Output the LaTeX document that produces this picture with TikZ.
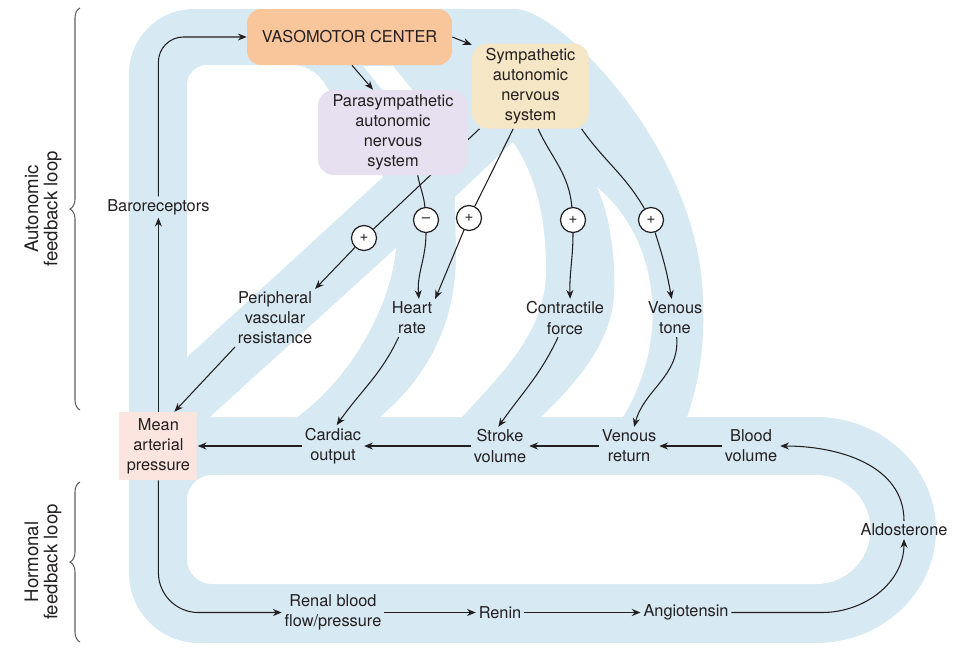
\documentclass[tikz,border=0pt]{standalone}
\usepackage{fontspec}
\setmainfont{TeX Gyre Heros}
\usepackage{tikz}
\usetikzlibrary{arrows.meta, backgrounds, decorations.pathreplacing}

\definecolor{bandblue}{RGB}{215,233,243}
\definecolor{vasoorange}{RGB}{249,198,156}
\definecolor{sympbeige}{RGB}{245,230,197}
\definecolor{paralilac}{RGB}{231,224,240}
\definecolor{mappink}{RGB}{252,229,222}
\definecolor{inkblack}{RGB}{35,31,32}
\definecolor{bracegray}{RGB}{95,95,95}

\newcommand{\diagfont}{\fontsize{9.3}{11.4}\selectfont}
\newcommand{\bracefont}{\fontsize{10.6}{10.9}\selectfont}
\newcommand{\signfont}{\fontsize{8.6}{10}\selectfont}

\tikzset{
  vasobox/.style={
    rectangle, rounded corners=8pt, minimum width=4.1cm, minimum height=1.12cm,
    fill=vasoorange, align=center
  },
  nervebox/.style={
    rectangle, rounded corners=9pt, minimum height=1.7cm, align=center,
    inner sep=2pt
  },
  mapbox/.style={
    rectangle, fill=mappink, minimum width=1.56cm, minimum height=1.36cm,
    align=center, inner sep=1pt
  },
  factor/.style={align=center, inner sep=1.5pt},
  sign/.style={
    circle, draw=inkblack, line width=0.7pt, fill=white, minimum size=0.5cm,
    inner sep=0pt, font=\signfont
  },
  arrow/.style={-{Stealth[length=5pt,width=4pt]}, line width=0.6pt, color=inkblack},
  link/.style={line width=0.6pt, color=inkblack},
  band/.style={fill=bandblue},
  holefill/.style={fill=white},
  loopbrace/.style={
    decorate, decoration={brace, amplitude=0.2cm}, draw=bracegray,
    line width=0.6pt
  }
}

\begin{document}
\begin{tikzpicture}[x=0.02cm, y=0.02cm,
                    every node/.style={font=\diagfont, text=inkblack}]
  \useasboundingbox (0,0) rectangle (962,-657);

  % boxes
  \node[vasobox] (vaso) at (349.5,-37) {VASOMOTOR CENTER};
  \node[nervebox, fill=sympbeige, minimum width=2.34cm] (symp) at (530.5,-86)
    {Sympathetic\\autonomic\\nervous\\system};
  \node[nervebox, fill=paralilac, minimum width=3cm] (para) at (393,-132.5)
    {Parasympathetic\\autonomic\\nervous\\system};
  \node[mapbox] (map) at (158.4,-446) {Mean\\arterial\\pressure};

  % factors
  \node[factor] (baro) at (158.4,-207) {Baroreceptors};
  \node[factor] (pvr) at (275,-318) {Peripheral\\vascular\\resistance};
  \node[factor] (heart) at (412,-318) {Heart\\rate};
  \node[factor] (contract) at (565,-318) {Contractile\\force};
  \node[factor] (vtone) at (675,-318) {Venous\\tone};
  \node[factor] (cardiac) at (333,-446) {Cardiac\\output};
  \node[factor] (stroke) at (500,-446) {Stroke\\volume};
  \node[factor] (vreturn) at (629,-446) {Venous\\return};
  \node[factor] (blood) at (751,-446) {Blood\\volume};
  \node[factor] (renal) at (333,-612.5) {Renal blood\\flow/pressure};
  \node[factor] (renin) at (500,-612.5) {Renin};
  \node[factor] (angio) at (686,-612.5) {Angiotensin};
  \node[factor] (aldo) at (904,-530) {Aldosterone};

  % signs
  \node[sign] (pvrplus) at (364,-238) {+};
  \node[sign] (hrminus) at (426,-220) {--};
  \node[sign] (hrplus) at (469,-218) {+};
  \node[sign] (cfplus) at (573,-220) {+};
  \node[sign] (vtplus) at (651,-220) {+};

  % light blue loops
  \begin{scope}[on background layer]
    \fill[band] (129,-300) [rounded corners=1.3cm] -- (129,-9) -- (450,-9)
      [sharp corners] .. controls (560,-9) and (700,-150) .. (703,-300)
      .. controls (705,-350) and (698,-385) .. (687,-417)
      -- (816,-417) arc[start angle=90, end angle=-90, x radius=120, y radius=113]
      [rounded corners=1.4cm] -- (129,-643) -- cycle;
    \fill[holefill] (187,-357) [rounded corners=0.4cm] -- (187,-65) -- (313,-65)
      [sharp corners] -- (383,-177) -- cycle;
    \fill[holefill] (363,-66) -- (393,-66) -- (445,-130) -- (415,-130) -- cycle;
    \fill[holefill] (210,-417) -- (396,-248)
      .. controls (392,-300) and (355,-375) .. (297,-417) -- cycle;
    \fill[holefill] (513,-142) -- (455,-197) -- (456,-250)
      .. controls (457,-320) and (430,-375) .. (380,-417) -- (462,-417)
      .. controls (505,-370) and (546,-330) .. (546,-270)
      .. controls (546,-215) and (535,-175) .. (513,-142) -- cycle;
    \fill[holefill] (597,-187) .. controls (610,-215) and (616,-260) .. (614,-295)
      .. controls (612,-340) and (580,-380) .. (541,-417) -- (623,-417)
      .. controls (645,-380) and (655,-340) .. (652,-300)
      .. controls (649,-255) and (630,-215) .. (597,-187) -- cycle;
    \fill[holefill] (187,-500) arc[start angle=180, end angle=90, radius=25]
      -- (816,-475) arc[start angle=90, end angle=-90, radius=54.5]
      -- (212,-584) arc[start angle=270, end angle=180, radius=25] -- cycle;
    \draw[link] (symp.-140) -- (pvrplus);
  \end{scope}

  % autonomic loop
  \draw[arrow] (map) -- (baro);
  \draw[arrow, rounded corners=0.5cm] (baro) |- (vaso);
  \draw[arrow] (vaso.east) -- (symp.145);
  \draw[arrow] (vaso.-85) -- (para.115);
  \draw[link] (para.-60) to[out=-80,in=95] (hrminus);
  \draw[arrow] (hrminus) to[out=-90,in=95] (heart.70);
  \draw[link] (symp.-112) -- (hrplus);
  \draw[arrow] (hrplus) -- (heart.north east);
  \draw[arrow] (pvrplus) -- (pvr.north east);
  \draw[link] (symp.-80) to[out=-65,in=95] (cfplus);
  \draw[arrow] (cfplus) to[out=-90,in=92] (contract.75);
  \draw[link] (symp.-40) to[out=-55,in=120] (vtplus);
  \draw[arrow] (vtplus) to[out=-72,in=100] (vtone);
  \draw[arrow] (pvr.south west) -- (map.65);
  \draw[arrow] (heart.-125) to[out=-115,in=55] (cardiac.80);
  \draw[arrow] (contract.-110) to[out=-115,in=55] (stroke.95);
  \draw[arrow] (vtone) to[out=-85,in=75] (vreturn.75);
  \draw[arrow] (blood) -- (vreturn);
  \draw[arrow] (vreturn) -- (stroke);
  \draw[arrow] (stroke) -- (cardiac);
  \draw[arrow] (cardiac) -- (map);

  % hormonal loop
  \coordinate (aldobend) at (822,-612.5);
  \draw[arrow, rounded corners=0.8cm] (map) |- (renal);
  \draw[arrow] (renal) -- (renin);
  \draw[arrow] (renin) -- (angio);
  \draw[arrow] (angio) -- (aldobend) to[out=0,in=-90] (aldo);
  \draw[arrow] (aldo) to[out=90,in=0] (blood);

  % braces
  \draw[loopbrace] (80,-410) -- (80,-8);
  \draw[loopbrace] (80,-642) -- (80,-482);
  \node[rotate=90, align=center, font=\bracefont] (autotext) at (43,-209)
    {Autonomic\\feedback loop};
  \node[rotate=90, align=center, font=\bracefont] (hormtext) at (43,-562)
    {Hormonal\\feedback loop};
\end{tikzpicture}
\end{document}
